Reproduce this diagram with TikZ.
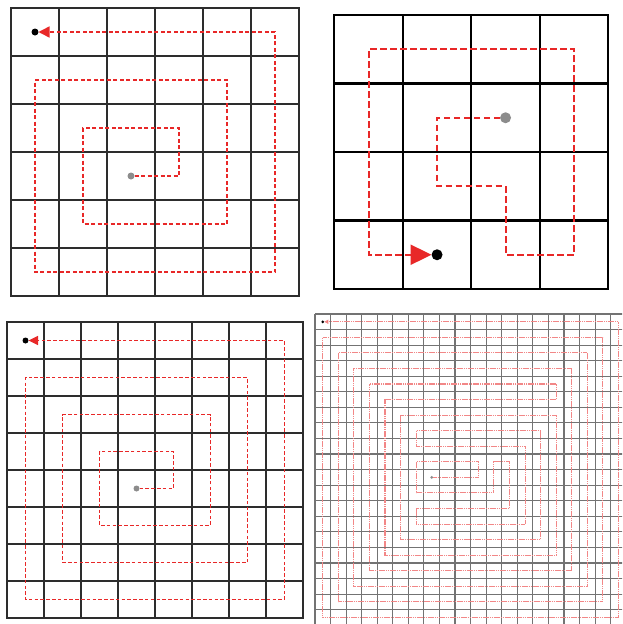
\documentclass[tikz,border=0pt]{standalone}
\usetikzlibrary{arrows.meta}
\definecolor{pathred}{RGB}{240,70,70}
\definecolor{tipred}{RGB}{232,40,40}
\definecolor{lightred}{RGB}{242,135,135}
\definecolor{gridA}{RGB}{45,45,45}
\definecolor{gridD}{RGB}{115,115,115}
\definecolor{dotgray}{RGB}{140,140,140}
\tikzset{
  dotnode/.style={circle, inner sep=0pt, outer sep=0pt},
  startdot/.style={dotnode, fill=dotgray},
  enddot/.style={dotnode, fill=black},
  gridone/.style={draw=gridA, line width=1.6pt, line cap=rect},
  gridtwo/.style={draw=black, line width=2.2pt, line cap=rect},
  gridfour/.style={draw=gridD, line width=1.1pt},
  pathone/.style={draw=pathred, line width=1.5pt, dash pattern=on 4pt off 2.5pt,
     -{Triangle[length=11pt,width=11pt,fill=tipred]}, color=tipred},
  pathtwo/.style={draw=pathred, line width=2.1pt, dash pattern=on 6.5pt off 3.5pt,
     -{Triangle[length=21pt,width=20pt,fill=tipred]}, color=tipred},
  paththree/.style={draw=pathred, line width=1.4pt, dash pattern=on 3.6pt off 2.2pt,
     -{Triangle[length=9.5pt,width=9pt,fill=tipred]}, color=tipred},
  pathfour/.style={draw=lightred, line width=1.1pt, dash pattern=on 1.6pt off 0.6pt,
     -{Triangle[length=4pt,width=4pt,fill=tipred]}, color=lightred},
}
\begin{document}
\begin{tikzpicture}[x=1pt,y=-1pt]
\fill[white] (0,0) rectangle (622,624);
\path[use as bounding box] (0,0) rectangle (622,624);
\clip (0,0) rectangle (622,624);

% Panel 1: 6x6
\begin{scope}[xshift=11pt,yshift=-8pt,x=48pt,y=-48pt]
  \foreach \i in {0,...,6} {
    \draw[gridone] (\i,0) -- (\i,6);
    \draw[gridone] (0,\i) -- (6,\i);
  }
  \node[startdot, minimum size=7pt] (g1) at (2.5,3.5) {};
  \node[enddot, minimum size=7pt] (b1) at (0.5,0.5) {};
  \draw[pathone] (g1) -- (3.5,3.5) -- (3.5,2.5) -- (1.5,2.5) -- (1.5,4.5)
    -- (4.5,4.5) -- (4.5,1.5) -- (0.5,1.5) -- (0.5,5.5) -- (5.5,5.5)
    -- (5.5,0.5) -- (b1);
\end{scope}

% Panel 2: 4x4
\begin{scope}[xshift=334.3pt,yshift=-15pt,x=68.5pt,y=-68.5pt]
  \foreach \i in {0,...,4} {
    \draw[gridtwo] (\i,0) -- (\i,4);
    \draw[gridtwo] (0,\i) -- (4,\i);
  }
  \node[startdot, minimum size=11pt] (g2) at (2.5,1.5) {};
  \node[enddot, minimum size=11pt] (b2) at (1.5,3.5) {};
  \draw[pathtwo] (g2) -- (1.5,1.5) -- (1.5,2.5) -- (2.5,2.5) -- (2.5,3.5)
    -- (3.5,3.5) -- (3.5,0.5) -- (0.5,0.5) -- (0.5,3.5) -- (b2);
\end{scope}

% Panel 3: 8x8
\begin{scope}[xshift=7pt,yshift=-322pt,x=37pt,y=-37pt]
  \foreach \i in {0,...,8} {
    \draw[gridone] (\i,0) -- (\i,8);
    \draw[gridone] (0,\i) -- (8,\i);
  }
  \node[startdot, minimum size=6pt] (g3) at (3.5,4.5) {};
  \node[enddot, minimum size=6pt] (b3) at (0.5,0.5) {};
  \draw[paththree] (g3) -- (4.5,4.5) -- (4.5,3.5) -- (2.5,3.5) -- (2.5,5.5)
    -- (5.5,5.5) -- (5.5,2.5) -- (1.5,2.5) -- (1.5,6.5) -- (6.5,6.5)
    -- (6.5,1.5) -- (0.5,1.5) -- (0.5,7.5) -- (7.5,7.5) -- (7.5,0.5) -- (b3);
\end{scope}

% Panel 4: 20x20
\begin{scope}[xshift=315pt,yshift=-314pt,x=15.56pt,y=-15.56pt]
  \foreach \i in {0,...,20} {
    \draw[gridfour] (\i,0) -- (\i,20);
    \draw[gridfour] (0,\i) -- (20,\i);
  }
  \node[startdot, minimum size=3pt] (g4) at (7.5,10.5) {};
  \node[enddot, minimum size=3pt] (b4) at (0.5,0.5) {};
  \draw[pathfour] (g4) -- (10.5,10.5) -- (10.5,9.5) -- (6.5,9.5) -- (6.5,11.5)
    -- (11.5,11.5) -- (11.5,9.5) -- (12.5,9.5) -- (12.5,12.5) -- (6.5,12.5)
    -- (6.5,13.5) -- (13.5,13.5) -- (13.5,8.5) -- (6.5,8.5) -- (6.5,7.5)
    -- (14.5,7.5) -- (14.5,14.5) -- (5.5,14.5) -- (5.5,6.5) -- (15.5,6.5)
    -- (15.5,15.5) -- (4.5,15.5) -- (4.5,5.5) -- (15.5,5.5) -- (15.5,4.5)
    -- (3.5,4.5) -- (3.5,16.5) -- (16.5,16.5) -- (16.5,3.5) -- (2.5,3.5)
    -- (2.5,17.5) -- (17.5,17.5) -- (17.5,2.5) -- (1.5,2.5) -- (1.5,18.5)
    -- (18.5,18.5) -- (18.5,1.5) -- (0.5,1.5) -- (0.5,19.5) -- (19.5,19.5)
    -- (19.5,0.5) -- (b4);
\end{scope}
\end{tikzpicture}
\end{document}
